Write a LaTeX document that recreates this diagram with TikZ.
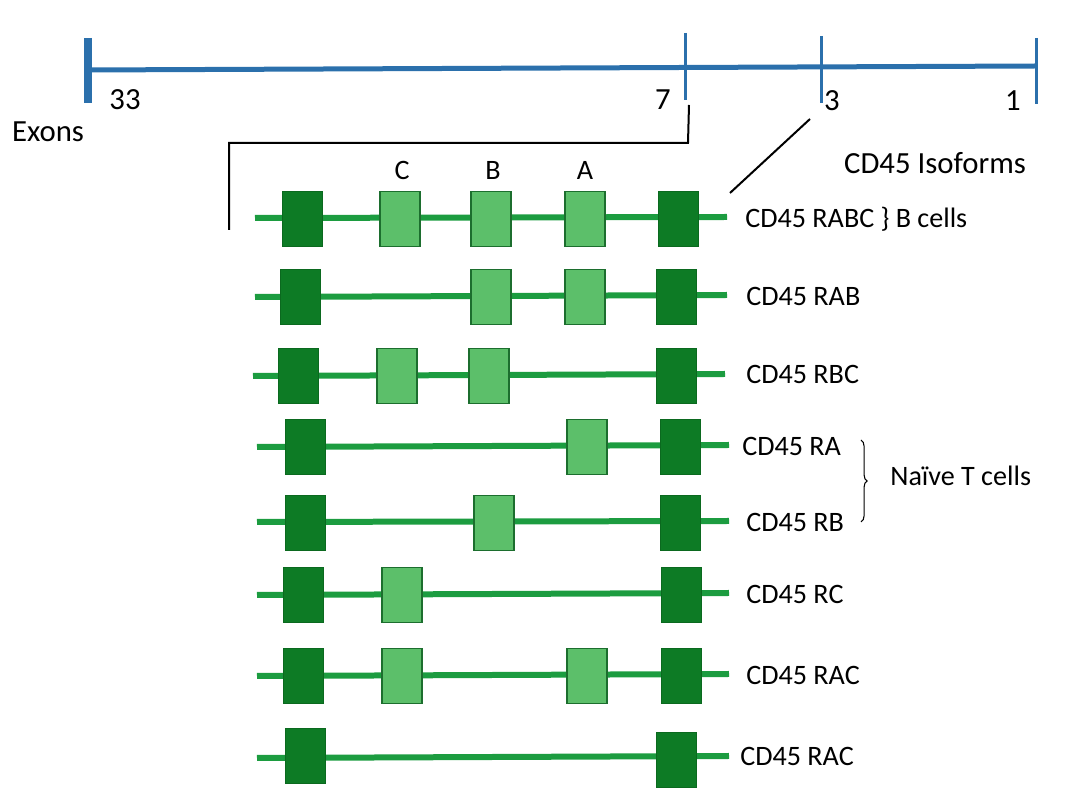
\documentclass[tikz,border=0pt]{standalone}
\usepackage{fontspec}
\setmainfont{Carlito}
\usetikzlibrary{positioning,decorations.pathreplacing,backgrounds}
\definecolor{exblue}{HTML}{2B70AC}
\definecolor{exdark}{HTML}{0D7B25}
\definecolor{exlight}{HTML}{5CBF6A}
\definecolor{exedge}{HTML}{1C6E2E}
\definecolor{exline}{HTML}{1C9C40}

\begin{document}
\begin{tikzpicture}[
  x=0.02cm,y=-0.02cm,
  dk/.style={draw=exdark!85!black,line width=0.5pt,fill=exdark,minimum width=0.8cm,minimum height=1.1cm,inner sep=0pt},
  lt/.style={dk,draw=exedge,line width=1pt,fill=exlight},
  strand/.style={draw=exline,line width=0.12cm},
  axis/.style={draw=exblue,line width=0.1cm},
  tick/.style={draw=exblue,line width=0.06cm},
  lbl/.style={anchor=west,inner sep=0pt,font=\fontsize{16}{19}\selectfont},
  head/.style={inner sep=0pt,font=\fontsize{17.5}{20}\selectfont},
  link/.style={draw=black,line width=0.04cm}
]
\useasboundingbox (0,0) rectangle (1080,810);

% exon scale
\coordinate (e33) at (88,70);
\coordinate (e7) at (685,68);
\coordinate (e3) at (821,67);
\coordinate (e1) at (1036,66);
\draw[axis] (e33) -- (e1);
\draw[draw=exblue,line width=0.16cm] (88,38) -- (88,103);
\draw[tick] (685,33) -- (685,100);
\draw[tick] (821,36) -- (821,103);
\draw[tick] (1036,38) -- (1036,104);
\node[head] (n33) at (125,100) {33};
\node[head] (n7) at (663,100) {7};
\node[head] (n3) at (832,101) {3};
\node[head] (n1) at (1013,101) {1};
\node[head] (ex) at (48,132) {Exons};

% zoom lines
\coordinate (z7) at (689,105);
\coordinate (zl) at (229,230);
\coordinate (z3) at (810,119);
\coordinate (zr) at (730,193);
\draw[link] (z7) -- (688,143) -- (229,143) -- (zl);
\draw[link] (z3) -- (zr);

\node[head] (iso) at (935,163) {CD45 Isoforms};
\node[lbl,anchor=center] (lc) at (402,170) {C};
\node[lbl,anchor=center] (lb) at (493,170) {B};
\node[lbl,anchor=center] (la) at (585,170) {A};

% isoforms
\coordinate (s1) at (255,218); \coordinate (t1) at (727,217);
\draw[strand] (s1) -- (t1);
\node[dk] (d1a) at (302,219) {}; \node[lt] (c1) at (400,219) {}; \node[lt] (b1) at (491,219) {};
\node[lt] (a1) at (585,219) {}; \node[dk] (d1b) at (678,219) {};
\node[lbl] (r1) at (745,219) {CD45 RABC \} B cells};

\coordinate (s2) at (255,297); \coordinate (t2) at (727,295);
\draw[strand] (s2) -- (t2);
\node[dk] (d2a) at (300,297) {}; \node[lt] (b2) at (491,297) {};
\node[lt] (a2) at (585,297) {}; \node[dk] (d2b) at (676,297) {};
\node[lbl] (r2) at (746,296) {CD45 RAB};

\coordinate (s3) at (253,376); \coordinate (t3) at (725,374);
\draw[strand] (s3) -- (t3);
\node[dk] (d3a) at (298,376) {}; \node[lt] (c3) at (397,376) {};
\node[lt] (b3) at (489,376) {}; \node[dk] (d3b) at (676,376) {};
\node[lbl] (r3) at (746,374) {CD45 RBC};

\coordinate (s4) at (257,447); \coordinate (t4) at (729,445);
\draw[strand] (s4) -- (t4);
\node[dk] (d4a) at (305,447) {}; \node[lt] (a4) at (587,447) {}; \node[dk] (d4b) at (680,447) {};
\node[lbl] (r4) at (742,446) {CD45 RA};

\coordinate (s5) at (257,522); \coordinate (t5) at (729,521);
\draw[strand] (s5) -- (t5);
\node[dk] (d5a) at (305,523) {}; \node[lt] (b5) at (494,523) {}; \node[dk] (d5b) at (680,523) {};
\node[lbl] (r5) at (746,522) {CD45 RB};

\coordinate (s6) at (257,595); \coordinate (t6) at (729,593);
\draw[strand] (s6) -- (t6);
\node[dk] (d6a) at (303,595) {}; \node[lt] (c6) at (402,595) {}; \node[dk] (d6b) at (681,595) {};
\node[lbl] (r6) at (746,594) {CD45 RC};

\coordinate (s7) at (257,676); \coordinate (t7) at (729,674);
\draw[strand] (s7) -- (t7);
\node[dk] (d7a) at (303,676) {}; \node[lt] (c7) at (402,676) {};
\node[lt] (a7) at (587,676) {}; \node[dk] (d7b) at (681,676) {};
\node[lbl] (r7) at (746,675) {CD45 RAC};

\coordinate (s8) at (257,758); \coordinate (t8) at (729,756);
\draw[strand] (s8) -- (t8);
\node[dk] (d8a) at (305,756) {}; \node[dk] (d8b) at (676,760) {};
\node[lbl] (r8) at (740,756) {CD45 RAC};

% naive T cells
\draw[link,line width=0.6pt,decorate,decoration={brace,amplitude=3.5pt}] (861,440) -- (861,522);
\node[lbl] (nt) at (890,476) {Naïve T cells};
\end{tikzpicture}
\end{document}
